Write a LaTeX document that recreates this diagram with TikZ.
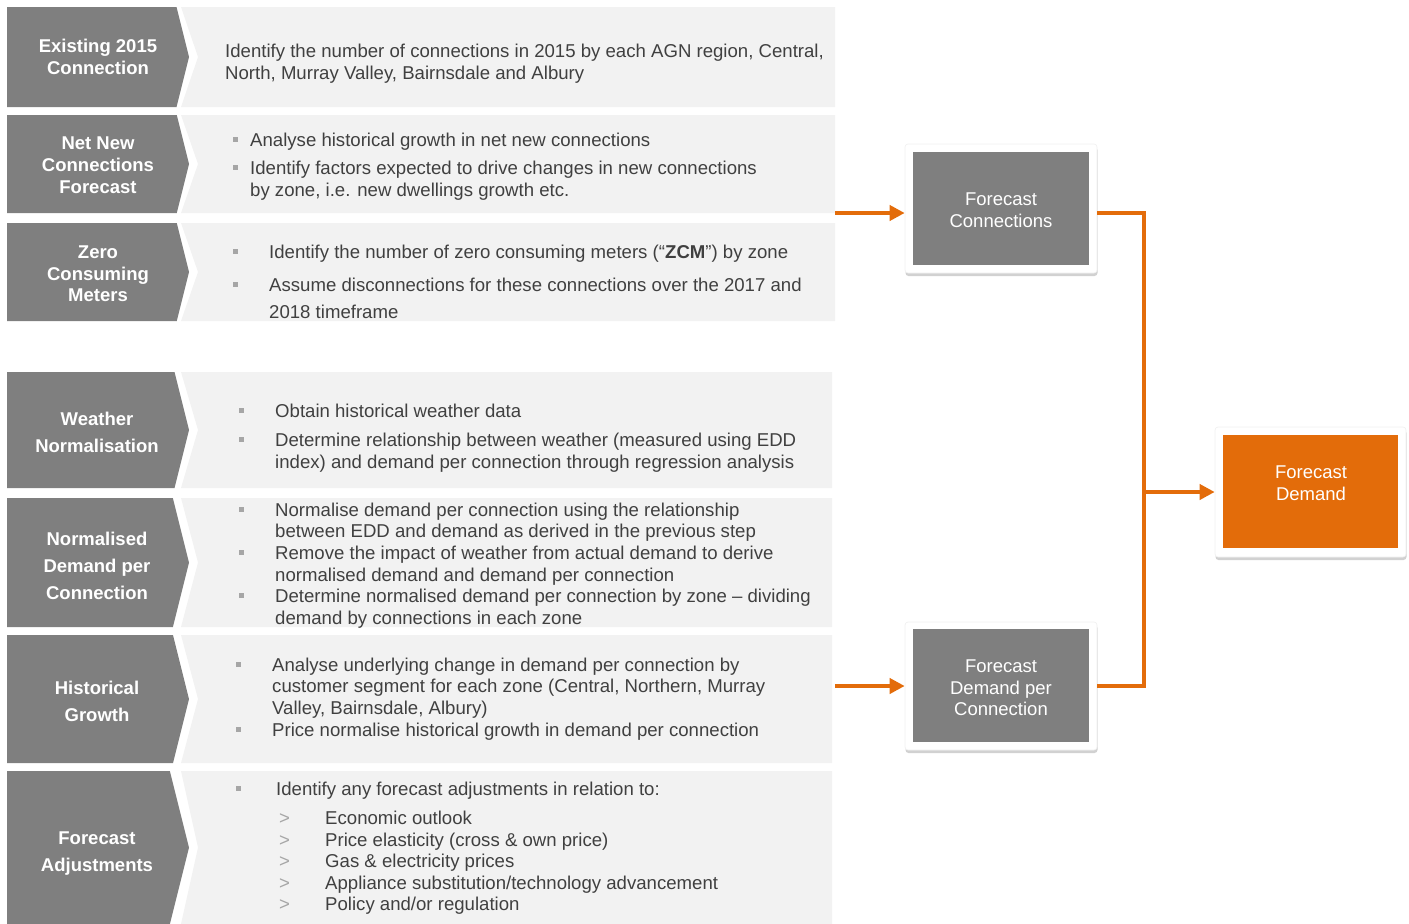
\documentclass[tikz,border=0pt]{standalone}
\usepackage{fontspec}
\setmainfont{Liberation Sans}
\usetikzlibrary{arrows.meta,shadows}

\definecolor{chev}{RGB}{127,127,127}
\definecolor{panel}{RGB}{242,242,242}
\definecolor{txt}{RGB}{64,64,64}
\definecolor{bulgrey}{RGB}{166,166,166}
\definecolor{orng}{RGB}{227,108,10}

% one process row: dark chevron label plus light description panel
% #1 top, #2 bottom, #3 right edge of the panel
\newcommand\processrow[3]{%
  \pgfmathsetmacro\rowmid{(#1+#2)/2}%
  \pgfmathsetmacro\rowtr{189-0.25*(#2-#1)/2}%
  \fill[chev] (7,#1) -- (\rowtr,#1) -- (189,\rowmid) -- (\rowtr,#2) -- (7,#2) -- cycle;
  \fill[panel] (181,#1) -- (#3,#1) -- (#3,#2) -- (181,#2) -- (198,\rowmid) -- cycle;
}

\begin{document}
\begin{tikzpicture}[x=1pt,y=-1pt,
  body/.style={anchor=base west, inner sep=0pt, yshift=-1pt, text=txt, font=\fontsize{18.6}{22}\selectfont},
  lab/.style={anchor=base, inner sep=0pt, yshift=-1pt, text=white, font=\bfseries\fontsize{18.5}{22}\selectfont},
  bul/.style={fill=bulgrey, minimum size=5pt, inner sep=0pt},
  gt/.style={anchor=base west, inner sep=0pt, yshift=-1pt, text=bulgrey, font=\fontsize{18.6}{22}\selectfont},
  frame/.style={fill=white, draw=black!6, line width=0.6pt, rounded corners=3pt, inner sep=0pt,
    drop shadow={shadow xshift=0.5pt, shadow yshift=-3pt, fill=black, opacity=0.18}},
  gbox/.style={fill=chev, inner sep=0pt, minimum width=176pt, minimum height=113pt},
  obox/.style={fill=orng, inner sep=0pt, minimum width=175pt, minimum height=113pt},
  boxtxt/.style={anchor=base, inner sep=0pt, yshift=-1pt, text=white, font=\fontsize{18.5}{22}\selectfont},
  oline/.style={draw=orng, line width=4pt},
  oarrow/.style={oline, -{Triangle[length=15pt,width=15pt]}}
]
\useasboundingbox (0,0) rectangle (1409,924);

% ---- row backgrounds ----
\processrow{7}{107}{835}
\processrow{115}{213}{835}
\processrow{223}{321}{835}
\processrow{372}{488}{832}
\processrow{498}{627}{832}
\processrow{635}{763}{832}
\processrow{771}{924}{832}

% ---- row 1 ----
\node[lab] (l11) at (98,51) {Existing 2015};
\node[lab] (l12) at (98,73) {Connection};
\node[body] (t11) at (225,56) {Identify the number of connections in 2015 by each AGN region, Central,};
\node[body] (t12) at (225,78) {North, Murray Valley, Bairnsdale and Albury};

% ---- row 2 ----
\node[lab] (l21) at (98,148) {Net New};
\node[lab] (l22) at (98,170) {Connections};
\node[lab] (l23) at (98,192) {Forecast};
\node[bul] (b21) at (235,139) {};
\node[bul] (b22) at (235,167) {};
\node[body] (t21) at (250,145) {Analyse historical growth in net new connections};
\node[body] (t22) at (250,173) {Identify factors expected to drive changes in new connections};
\node[body] (t23) at (250,195) {by zone, i.e. new dwellings growth etc.};

% ---- row 3 ----
\node[lab] (l31) at (98,257) {Zero};
\node[lab] (l32) at (98,279) {Consuming};
\node[lab] (l33) at (98,300) {Meters};
\node[bul] (b31) at (235,251) {};
\node[bul] (b32) at (235,284) {};
\node[body] (t31) at (269,257) {Identify the number of zero consuming meters (“\textbf{ZCM}”) by zone};
\node[body] (t32) at (269,290) {Assume disconnections for these connections over the 2017 and};
\node[body] (t33) at (269,317) {2018 timeframe};

% ---- row 4 ----
\node[lab] (l41) at (97,424) {Weather};
\node[lab] (l42) at (97,451) {Normalisation};
\node[bul] (b41) at (241,410) {};
\node[bul] (b42) at (241,439) {};
\node[body] (t41) at (275,416) {Obtain historical weather data};
\node[body] (t42) at (275,445) {Determine relationship between weather (measured using EDD};
\node[body] (t43) at (275,467) {index) and demand per connection through regression analysis};

% ---- row 5 ----
\node[lab] (l51) at (97,544) {Normalised};
\node[lab] (l52) at (97,571) {Demand per};
\node[lab] (l53) at (97,598) {Connection};
\node[bul] (b51) at (241,509) {};
\node[bul] (b52) at (241,552) {};
\node[bul] (b53) at (241,595) {};
\node[body] (t51) at (275,515) {Normalise demand per connection using the relationship};
\node[body] (t52) at (275,536) {between EDD and demand as derived in the previous step};
\node[body] (t53) at (275,558) {Remove the impact of weather from actual demand to derive};
\node[body] (t54) at (275,580) {normalised demand and demand per connection};
\node[body] (t55) at (275,601) {Determine normalised demand per connection by zone – dividing};
\node[body] (t56) at (275,623) {demand by connections in each zone};

% ---- row 6 ----
\node[lab] (l61) at (97,693) {Historical};
\node[lab] (l62) at (97,720) {Growth};
\node[bul] (b61) at (238,664) {};
\node[bul] (b62) at (238,729) {};
\node[body] (t61) at (272,670) {Analyse underlying change in demand per connection by};
\node[body] (t62) at (272,691) {customer segment for each zone (Central, Northern, Murray};
\node[body] (t63) at (272,713) {Valley, Bairnsdale, Albury)};
\node[body] (t64) at (272,735) {Price normalise historical growth in demand per connection};

% ---- row 7 ----
\node[lab] (l71) at (97,843) {Forecast};
\node[lab] (l72) at (97,870) {Adjustments};
\node[bul] (b71) at (238,788) {};
\node[body] (t71) at (276,794) {Identify any forecast adjustments in relation to:};
\node[gt] (g1) at (279,823) {>};
\node[gt] (g2) at (279,845) {>};
\node[gt] (g3) at (279,866) {>};
\node[gt] (g4) at (279,888) {>};
\node[gt] (g5) at (279,909) {>};
\node[body] (s1) at (325,823) {Economic outlook};
\node[body] (s2) at (325,845) {Price elasticity (cross \& own price)};
\node[body] (s3) at (325,866) {Gas \& electricity prices};
\node[body] (s4) at (325,888) {Appliance substitution/technology advancement};
\node[body] (s5) at (325,909) {Policy and/or regulation};

% ---- output boxes ----
\node[frame, minimum width=192pt, minimum height=129pt] (fcf) at (1001,208.5) {};
\node[gbox] (fc) at (1001,208.5) {};
\node[boxtxt] (fc1) at (1001,204) {Forecast};
\node[boxtxt] (fc2) at (1001,226) {Connections};

\node[frame, minimum width=192pt, minimum height=128pt] (fdcf) at (1001,686) {};
\node[gbox] (fdc) at (1001,685.5) {};
\node[boxtxt] (fdc1) at (1001,671) {Forecast};
\node[boxtxt] (fdc2) at (1001,693) {Demand per};
\node[boxtxt] (fdc3) at (1001,714) {Connection};

\node[frame, minimum width=191pt, minimum height=130pt] (fdf) at (1310.5,492) {};
\node[obox] (fd) at (1310.5,491.5) {};
\node[boxtxt] (fd1) at (1311,477) {Forecast};
\node[boxtxt] (fd2) at (1311,499) {Demand};

% ---- connectors ----
\coordinate (in1) at (835,213);
\coordinate (in2) at (835,686);
\coordinate (bus) at (1144,492);
\draw[oarrow] (in1) -- (in1 -| fcf.west);
\draw[oarrow] (in2) -- (in2 -| fdcf.west);
\draw[oline] (in1 -| fcf.east) -| (bus) |- (in2 -| fdcf.east);
\draw[oarrow] (bus) -- (fdf.west);
\end{tikzpicture}
\end{document}
